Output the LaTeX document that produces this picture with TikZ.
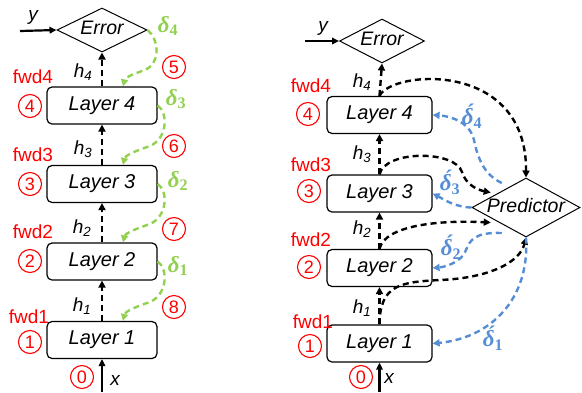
\documentclass[tikz,border=0pt]{standalone}
\usepackage{fontspec}
\setmainfont{Liberation Sans}
\newfontfamily\gserif{Liberation Serif}
\usetikzlibrary{arrows.meta,shapes.geometric}
\definecolor{fred}{RGB}{255,0,0}
\definecolor{dgreen}{RGB}{146,208,80}
\definecolor{dblue}{RGB}{85,142,213}
\newcommand{\dlab}[1]{{\gserif\bfseries\itshape δ}\textsubscript{\gserif\bfseries #1}}
\newcommand{\dlabacute}[1]{{\gserif\bfseries\itshape δ́}\textsubscript{\gserif\bfseries #1}}
\begin{document}
\begin{tikzpicture}[x=1pt,y=-1pt,
  txt/.style={font=\fontsize{19}{22}\selectfont, inner sep=0pt},
  itxt/.style={font=\fontsize{19}{22}\selectfont\itshape, inner sep=0pt},
  layerbox/.style={draw, rounded corners=5pt, line width=1.2pt, minimum height=37pt, inner sep=0pt, font=\fontsize{20}{22}\selectfont\itshape},
  diam/.style={draw, diamond, line width=1pt, inner sep=0pt, text height=12pt, text depth=3pt, font=\fontsize{19.5}{22}\selectfont\itshape},
  num/.style={circle, draw=fred, text=fred, line width=1.1pt, minimum size=23pt, inner sep=0pt, font=\fontsize{18}{18}\selectfont},
  fwdlab/.style={text=fred, font=\fontsize{19}{22}\selectfont, inner sep=0pt},
  glab/.style={text=dgreen, font=\fontsize{23}{24}\selectfont, inner sep=0pt},
  blab/.style={text=dblue, font=\fontsize{23}{24}\selectfont, inner sep=0pt},
  flow/.style={line width=2.4pt, dash pattern=on 6pt off 4pt, -{Triangle[length=7pt,width=7pt]}},
  stem/.style={flow, draw=black},
  grn/.style={flow, draw=dgreen},
  blu/.style={flow, draw=dblue},
  solidarr/.style={line width=2.2pt, -{Triangle[length=7pt,width=6.5pt]}}
]
\useasboundingbox (0,0) rectangle (582,392);

% ================= LEFT =================
\node[diam, aspect=2, minimum width=90pt, minimum height=44pt] (eL) at (102,30) {Error};
\node[layerbox, minimum width=110pt] (l4L) at (102,105.5) {Layer 4};
\node[layerbox, minimum width=110pt] (l3L) at (102,184) {Layer 3};
\node[layerbox, minimum width=110pt] (l2L) at (102,261.5) {Layer 2};
\node[layerbox, minimum width=110pt] (l1L) at (102,340) {Layer 1};

\coordinate (yinL) at (20,31);
\coordinate (xinL) at (102,392);
\draw[solidarr] (yinL) -- (eL.west);
\draw[solidarr] (xinL) -- (l1L.south);
\node[itxt] (ylabL) at (33,17) {y};
\node[itxt] (xlabL) at (115,380) {x};

\draw[stem] (l1L.north) -- (l2L.south);
\draw[stem] (l2L.north) -- (l3L.south);
\draw[stem] (l3L.north) -- (l4L.south);
\draw[stem] (l4L.north) -- (eL.south);

\node[itxt] (h4L) at (83,72) {h\textsubscript{4}};
\node[itxt] (h3L) at (83,149) {h\textsubscript{3}};
\node[itxt] (h2L) at (82,228) {h\textsubscript{2}};
\node[itxt] (h1L) at (82,306) {h\textsubscript{1}};

\node[fwdlab] (f4L) at (33,77) {fwd4};
\node[fwdlab] (f3L) at (33,155) {fwd3};
\node[fwdlab] (f2L) at (33,232) {fwd2};
\node[fwdlab] (f1L) at (29,317) {fwd1};
\node[num] (c4L) at (30,106) {4};
\node[num] (c3L) at (30,184) {3};
\node[num] (c2L) at (30,261) {2};
\node[num] (c1L) at (30,342) {1};
\node[num] (c0L) at (82,377) {0};
\node[num] (c5) at (174,67) {5};
\node[num] (c6) at (174,146) {6};
\node[num] (c7) at (174,229) {7};
\node[num] (c8) at (174,307) {8};

\node[glab] (d4) at (168,26) {\dlab{4}};
\node[glab] (d3) at (176,99) {\dlab{3}};
\node[glab] (d2) at (178,181) {\dlab{2}};
\node[glab] (d1) at (178,266) {\dlab{1}};

\draw[grn] (eL.east) .. controls (158,38) and (162,62) .. (145,70) .. controls (130,75) and (125,78) .. ([xshift=21pt]l4L.north);
\draw[grn] (l4L.east) .. controls (168,112) and (168,138) .. (150,146) .. controls (132,152) and (125,156) .. ([xshift=21pt]l3L.north);
\draw[grn] (l3L.east) .. controls (168,190) and (168,216) .. (150,224) .. controls (132,230) and (125,234) .. ([xshift=21pt]l2L.north);
\draw[grn] (l2L.east) .. controls (168,268) and (168,294) .. (150,302) .. controls (132,308) and (125,312) .. ([xshift=21pt]l1L.north);

% ================= RIGHT =================
\node[diam, aspect=1.93, minimum width=85pt, minimum height=44pt] (eR) at (382,41) {Error};
\node[layerbox, minimum width=105pt] (l4R) at (379.5,115) {Layer 4};
\node[layerbox, minimum width=105pt] (l3R) at (379.5,193.5) {Layer 3};
\node[layerbox, minimum width=105pt] (l2R) at (379.5,268) {Layer 2};
\node[layerbox, minimum width=105pt] (l1R) at (379.5,343.5) {Layer 1};
\node[diam, aspect=1.83, minimum width=108pt, minimum height=59pt] (pred) at (526,207.5) {Predictor};

\coordinate (yinR) at (305,41);
\coordinate (xinR) at (379.5,392);
\draw[solidarr] (yinR) -- (eR.west);
\draw[solidarr] (xinR) -- (l1R.south);
\node[itxt] (ylabR) at (323,28) {y};
\node[itxt] (xlabR) at (389,378) {x};

\draw[stem] (l1R.north) -- (l2R.south);
\draw[stem] (l2R.north) -- (l3R.south);
\draw[stem] (l3R.north) -- (l4R.south);
\draw[stem] (l4R.north) -- (eR.south);

\node[itxt] (h4R) at (362,82) {h\textsubscript{4}};
\node[itxt] (h3R) at (362,154) {h\textsubscript{3}};
\node[itxt] (h2R) at (362,229) {h\textsubscript{2}};
\node[itxt] (h1R) at (362,308) {h\textsubscript{1}};

\node[fwdlab] (f4R) at (311,86) {fwd4};
\node[fwdlab] (f3R) at (311,165) {fwd3};
\node[fwdlab] (f2R) at (311,240) {fwd2};
\node[fwdlab] (f1R) at (313,322) {fwd1};
\node[num] (c4R) at (308,114) {4};
\node[num] (c3R) at (309,191) {3};
\node[num] (c2R) at (309,267) {2};
\node[num] (c1R) at (310,346) {1};
\node[num] (c0R) at (361,377) {0};

% black forward curves to predictor
\draw[stem] (l4R.north) .. controls (392,70) and (527,60) .. (pred.north);
\draw[stem] (l3R.north) .. controls (385,150) and (455,150) .. (462,172) .. controls (466,185) and (478,190) .. ([xshift=-8pt]pred.north west);
\draw[stem] (l2R.north) .. controls (385,225) and (440,220) .. ([xshift=-8pt]pred.south west);
\draw[stem] (l1R.north) .. controls (380,285) and (400,282) .. (440,280) .. controls (490,278) and (520,262) .. (pred.south);

% blue backward curves
\draw[blu] ([xshift=3pt,yshift=9.5pt]pred.north west) .. controls (485,175) and (478,160) .. (474,140) .. controls (470,122) and (450,116) .. (l4R.east);
\draw[blu] (pred.west) .. controls (455,207) and (445,200) .. (l3R.east);
\draw[blu] ([xshift=3pt,yshift=-10.5pt]pred.south west) .. controls (475,232) and (470,240) .. (466,250) .. controls (462,262) and (445,267) .. (l2R.east);
\draw[blu] (pred.south) .. controls (530,300) and (490,338) .. (l1R.east);

\node[blab] (b4) at (472,116) {\dlabacute{4}};
\node[blab] (b3) at (450,182) {\dlabacute{3}};
\node[blab] (b2) at (451,247) {\dlabacute{2}};
\node[blab] (b1) at (493,338) {\dlabacute{1}};
\end{tikzpicture}
\end{document}
